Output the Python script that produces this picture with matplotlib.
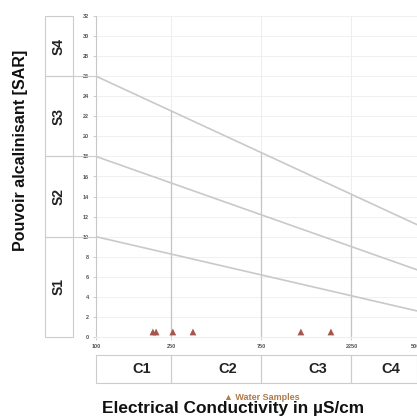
import matplotlib
matplotlib.use("Agg")
import matplotlib.pyplot as plt
import numpy as np

# Data
ec_samples = [200, 208, 255, 326, 1215, 1752]
sar_samples = [0.5, 0.5, 0.5, 0.5, 0.5, 0.5]

ec_ticks = [100, 250, 750, 2250, 5000]
sar_ticks = list(range(0, 33, 2))

boundary_ec = [100, 5000]
boundary_top = [26, 11.2]
boundary_mid = [18, 6.7]
boundary_low = [10, 2.6]

s_labels = ["S1", "S2", "S3", "S4"]
s_edges = [0, 10, 18, 26, 32]
c_labels = ["C1", "C2", "C3", "C4"]
c_edges = [100, 250, 750, 2250, 5000]

W, H = 417, 419
plt.rcParams['font.family'] = ['Liberation Sans', 'DejaVu Sans']
fig = plt.figure(figsize=(W / 100, H / 100), dpi=100)

def fx(px):
    return px / W

def fy(py):
    return 1 - py / H

# Main axes
left, right = 96, 417
top, bottom = 16, 337
ax = fig.add_axes([fx(left), fy(bottom), fx(right - left), fy(top) - fy(bottom)])
ax.set_xscale('log')
ax.set_xlim(100, 5000)
ax.set_ylim(0, 32)
ax.set_yticks(sar_ticks)
ax.set_yticklabels([str(t) for t in sar_ticks], fontsize=4, color='#555555',
                   fontweight='bold')
ax.set_xticks(ec_ticks)
ax.set_xticklabels([str(t) for t in ec_ticks], fontsize=4, color='#555555',
                   fontweight='bold')
ax.xaxis.set_minor_locator(matplotlib.ticker.NullLocator())
ax.tick_params(axis='both', length=2, width=0.5, color='#bbbbbb', pad=3)
for t in sar_ticks:
    ax.axhline(t, color='#eeeeee', lw=0.6, zorder=0)
# vertical separators: faint above top boundary, darker below it
top_fn = lambda e: boundary_top[0] + (boundary_top[1] - boundary_top[0]) * \
    np.log10(e / boundary_ec[0]) / np.log10(boundary_ec[1] / boundary_ec[0])
for e in ec_ticks[1:-1]:
    ax.axvline(e, color='#eeeeee', lw=0.8, zorder=0)
    ax.plot([e, e], [0, top_fn(e)], color='#c4c4c4', lw=0.9, zorder=1)
for sp in ['top', 'right']:
    ax.spines[sp].set_visible(False)
ax.spines['left'].set_color('#c8c8c8')
ax.spines['bottom'].set_color('#eeeeee')
ax.spines['left'].set_linewidth(0.8)

line_color = '#c9c9c9'
ax.plot(boundary_ec, boundary_top, color=line_color, lw=1.2)
ax.plot(boundary_ec, boundary_mid, color=line_color, lw=1.2)
ax.plot(boundary_ec, boundary_low, color=line_color, lw=1.2)

ax.scatter(ec_samples, sar_samples, marker='^', s=24, color='#a5574f',
           edgecolors='none', zorder=5, clip_on=False)

# S boxes
sax = fig.add_axes([fx(45), fy(bottom), fx(28), fy(top) - fy(bottom)])
sax.set_xlim(0, 1)
sax.set_ylim(0, 32)
sax.axis('off')
for i, lab in enumerate(s_labels):
    lo, hi = s_edges[i], s_edges[i + 1]
    sax.add_patch(plt.Rectangle((0, lo), 1, hi - lo, fill=False,
                                edgecolor='#cccccc', lw=0.8, clip_on=False))
    sax.text(0.5, (lo + hi) / 2, lab, rotation=90, ha='center', va='center',
             fontsize=10, fontweight='bold', color='#222222')
for e in s_edges[1:-1]:
    fig.add_artist(matplotlib.lines.Line2D([fx(73), fx(96)],
                   [fy(bottom) + (fy(top) - fy(bottom)) * e / 32] * 2,
                   color='#cccccc', lw=0.8))

# C boxes
cax = fig.add_axes([fx(left), fy(383), fx(right - left), fy(355) - fy(383)])
cax.set_xscale('log')
cax.set_xlim(100, 5000)
cax.set_ylim(0, 1)
cax.axis('off')
for i, lab in enumerate(c_labels):
    lo, hi = c_edges[i], c_edges[i + 1]
    cax.add_patch(plt.Rectangle((lo, 0), hi - lo, 1, fill=False,
                                edgecolor='#cccccc', lw=0.8, clip_on=False))
    cax.text((lo + hi) / 2, 0.5, lab, ha='center', va='center',
             fontsize=10.5, fontweight='bold', color='#222222')

# Legend
fig.text(fx(262), fy(397), "\u25B2 Water Samples", ha='center', va='center',
         fontsize=6.5, color='#b07a4a', fontweight='bold')

# Axis labels
fig.text(fx(233), fy(408), "Electrical Conductivity in \u00b5S/cm", ha='center',
         va='center', fontsize=12.4, fontweight='bold', color='#111111')
fig.text(fx(21), fy(150), "Pouvoir alcalinisant [SAR]", rotation=90,
         ha='center', va='center', fontsize=11.5, fontweight='bold', color='#111111')

fig.savefig("out.png", dpi=100)
